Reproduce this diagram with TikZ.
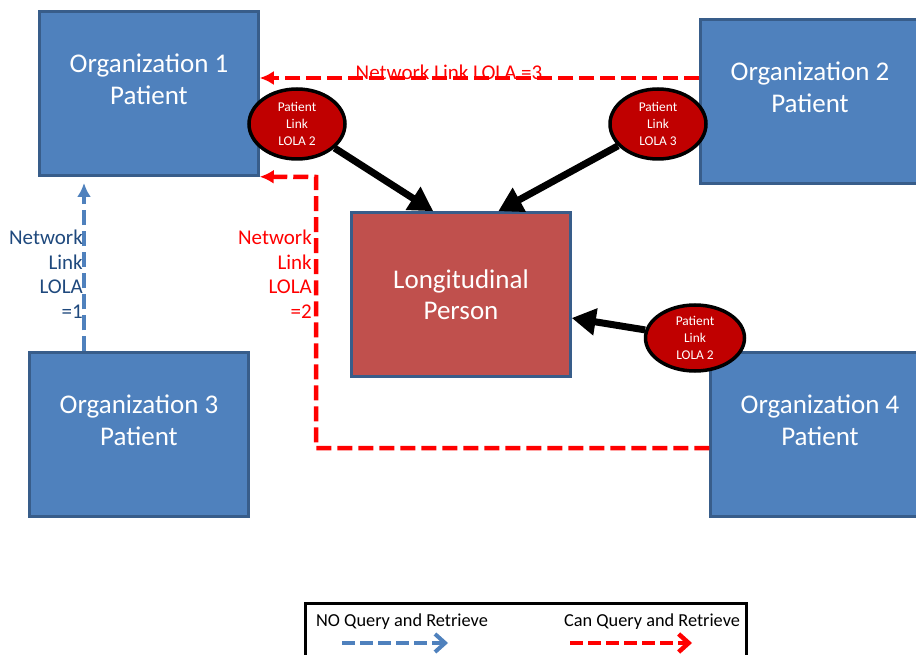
\documentclass[tikz,border=0pt]{standalone}
\usepackage{fontspec}
\setmainfont{Carlito}
\usetikzlibrary{shapes.geometric, arrows.meta, calc}
\definecolor{orgblue}{HTML}{4F81BD}
\definecolor{orgline}{HTML}{385D8A}
\definecolor{personred}{HTML}{C0504D}
\definecolor{linkred}{HTML}{C00000}
\definecolor{navy}{HTML}{1F497D}

\begin{document}
\begin{tikzpicture}[x=1pt, y=-1pt,
	orgbox/.style={draw=orgline, line width=2.5pt, fill=orgblue, minimum width=219pt, minimum height=164pt, inner sep=0pt},
	boxtext/.style={text=white, align=center, font=\fontsize{27}{31.5}\selectfont},
	patlink/.style={ellipse, draw=black, line width=3.5pt, fill=linkred, minimum width=96pt, minimum height=70pt, inner sep=0pt, text=white, align=center, font=\fontsize{13.4}{17}\selectfont},
	linkarrow/.style={line width=7pt, -{Triangle[length=24pt,width=26pt]}},
	canq/.style={red, line width=4.5pt, dash pattern=on 15pt off 6pt, -{Latex[length=14pt,width=14pt]}},
	noq/.style={orgblue, line width=4pt, dash pattern=on 15pt off 6pt, -{Latex[length=14pt,width=14pt]}},
	lolatext/.style={align=right, anchor=east, inner sep=0pt, font=\fontsize{21}{24.5}\selectfont}]
		\clip (0,0) rectangle (916,655);
		\node[orgbox] (org1) at (149,93.5) {};
		\node[orgbox] (org2) at (810,101.5) {};
		\node[orgbox] (org3) at (139,434.5) {};
		\node[orgbox] (org4) at (820,434.5) {};
		\node[orgbox, fill=personred] (person) at (461,294.5) {};
		\node[boxtext] (org1txt) at ([yshift=14pt]org1.center) {Organization 1\\Patient};
		\node[boxtext] (org2txt) at ([yshift=14pt]org2.center) {Organization 2\\Patient};
		\node[boxtext] (org3txt) at ([yshift=14pt]org3.center) {Organization 3\\Patient};
		\node[boxtext] (org4txt) at ([yshift=14pt]org4.center) {Organization 4\\Patient};
		\node[boxtext] (persontxt) at (person) {Longitudinal\\Person};

		\coordinate (top3) at ([yshift=23.5pt]org2.west);
		\draw[canq] (top3) -- (top3 -| org1.east);
		\node[text=red, anchor=base, inner sep=0pt, font=\fontsize{21}{24}\selectfont] (lola3) at (449,80) {Network Link LOLA =3};
		\coordinate (low4) at ([yshift=-13.5pt]org4.west);
		\coordinate (bend2) at (316,177);
		\draw[canq] (low4) -| (bend2) -- (org1.south east);
		\node[lolatext, text=red] (lola2) at (312,274) {Network\\Link\\LOLA\\=2};
		\coordinate (tip1) at (84,183);
		\draw[noq] (org3.north -| tip1) -- (tip1);
		\node[lolatext, text=navy] (lola1) at (83,274) {Network\\Link\\LOLA\\=1};

		\node[patlink] (link1) at (297,124) {Patient\\Link\\LOLA 2};
		\node[patlink] (link2) at (658,124) {Patient\\Link\\LOLA 3};
		\node[patlink, minimum width=99pt, minimum height=66pt] (link3) at (695,338) {Patient\\Link\\LOLA 2};
		\draw[linkarrow] (link1) -- ([xshift=83pt]person.north west);
		\draw[linkarrow] (link2) -- ([xshift=148pt]person.north west);
		\draw[linkarrow] (link3) -- ([yshift=-23.5pt]person.east);

		\node[draw=black, line width=3pt, minimum width=441pt, minimum height=80pt, inner sep=0pt] (legend) at (525.5,643) {};
		\node[font=\fontsize{18.3}{22}\selectfont] (noqtxt) at (402,622) {NO Query and Retrieve};
		\node[font=\fontsize{18.3}{22}\selectfont] (canqtxt) at (652,622) {Can Query and Retrieve};
		\coordinate (noqa) at (342,643);
		\coordinate (noqb) at (448,643);
		\coordinate (canqa) at (570,643);
		\coordinate (canqb) at (692,643);
		\draw[noq, dash pattern=on 13pt off 5pt, -{Straight Barb[length=10pt,width=18pt]}] (noqa) -- (noqb);
		\draw[canq, dash pattern=on 13pt off 5pt, -{Straight Barb[length=10pt,width=18pt]}] (canqa) -- (canqb);
	\end{tikzpicture}
\end{document}
